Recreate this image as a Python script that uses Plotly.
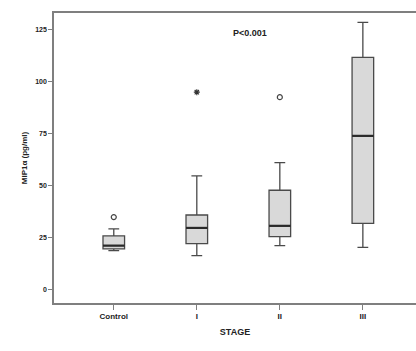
import plotly.graph_objects as go

categories = ["Control", "I", "II", "III"]
q1 = [19.7, 22.3, 25.6, 32.0]
median = [21.3, 29.8, 30.8, 74.0]
q3 = [26.0, 36.0, 47.9, 111.7]
lower_whisker = [18.9, 16.5, 21.3, 20.5]
upper_whisker = [29.3, 54.8, 61.2, 128.5]
circle_outlier_x = [0, 2]
circle_outlier_y = [35.0, 92.6]
star_outlier_x = [1]
star_outlier_y = [95.0]
p_text = "P<0.001"

pos = list(range(len(categories)))
box_w = 0.26
fill = "#d9d9d9"
edge = "#4a4a4a"
frame = "#7f7f7f"
font_family = "Liberation Sans, Arial, sans-serif"

fig = go.Figure()
fig.add_trace(go.Box(
    x=pos, q1=q1, median=median, q3=q3,
    lowerfence=lower_whisker, upperfence=upper_whisker,
    width=box_w, whiskerwidth=0.5,
    fillcolor=fill, line=dict(color=edge, width=1.3),
    boxpoints=False, showlegend=False, hoverinfo="skip",
))
# thicker median lines
for i, m in zip(pos, median):
    fig.add_trace(go.Scatter(
        x=[i - box_w / 2, i + box_w / 2], y=[m, m], mode="lines",
        line=dict(color="#2a2a2a", width=2.2), showlegend=False, hoverinfo="skip",
    ))
fig.add_trace(go.Scatter(
    x=circle_outlier_x, y=circle_outlier_y, mode="markers",
    marker=dict(symbol="circle-open", size=5, color="#444", line=dict(width=1.2)),
    showlegend=False, hoverinfo="skip",
))
fig.add_trace(go.Scatter(
    x=star_outlier_x, y=star_outlier_y, mode="markers",
    marker=dict(symbol="asterisk-open", size=5, color="#333", line=dict(width=1.1, color="#333")),
    showlegend=False, hoverinfo="skip",
))
fig.add_annotation(x=1.64, y=123.5, text="<b>" + p_text + "</b>", showarrow=False,
                   font=dict(size=9, color="#222", family=font_family))

fig.update_layout(
    width=416, height=351,
    margin=dict(l=54, r=0, t=13, b=48, pad=0),
    paper_bgcolor="white", plot_bgcolor="white",
    font=dict(family=font_family, color="#222"),
    xaxis=dict(
        range=[-0.72, 3.64], tickvals=pos, automargin=False,
        ticktext=["<b>" + c + "</b>" for c in categories],
        showgrid=False, zeroline=False,
        showline=True, mirror=True, linecolor=frame, linewidth=1.5,
        ticks="outside", ticklen=5, tickcolor=frame, tickwidth=1.3,
        tickfont=dict(size=8, color="#222"),
        title=dict(text="<b>STAGE</b>", font=dict(size=9, color="#222"), standoff=8),
    ),
    yaxis=dict(
        range=[-6.25, 133.0], tickvals=[0, 25, 50, 75, 100, 125], automargin=False,
        ticktext=["<b>%d</b>" % v for v in [0, 25, 50, 75, 100, 125]],
        showgrid=False, zeroline=False,
        showline=True, mirror=False, linecolor=frame, linewidth=1.5,
        ticks="outside", ticklen=4, tickcolor=frame, tickwidth=1.3,
        tickfont=dict(size=7, color="#222"),
        title=dict(text="<b>MIP1α (pg/ml)</b>", font=dict(size=8, color="#222"), standoff=6),
    ),
)

fig.write_html(
    "out.html",
    config={"displayModeBar": False},
    post_script=(
        "document.body.style.margin='0';"
        "document.body.style.overflow='hidden';"
        "document.documentElement.style.overflow='hidden';"
    ),
)
